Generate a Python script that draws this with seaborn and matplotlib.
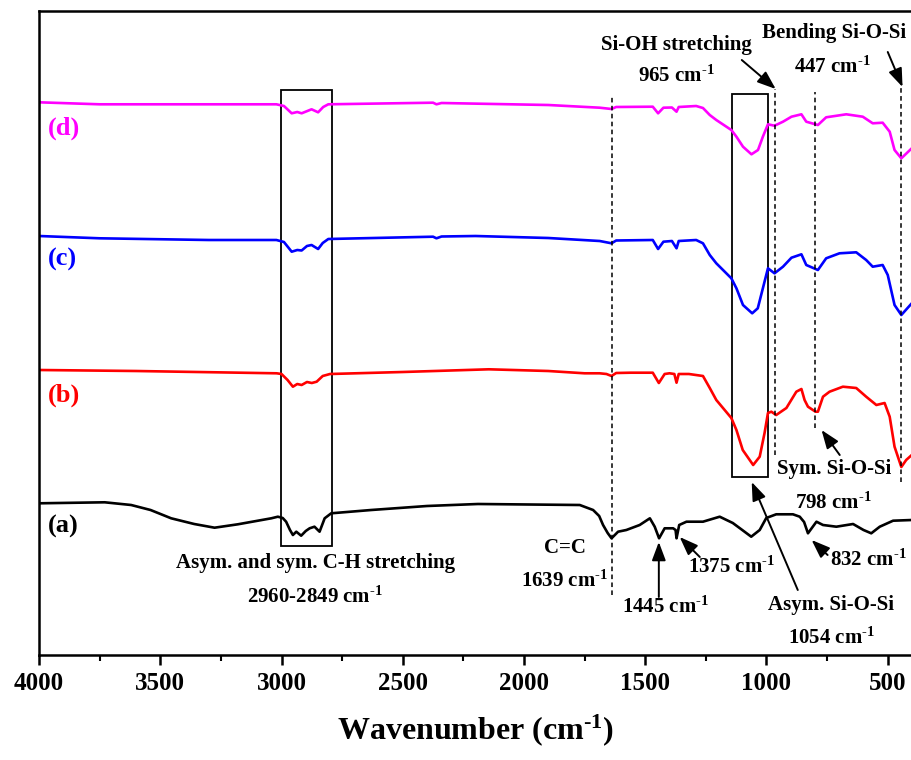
import numpy as np
import pandas as pd
import matplotlib
matplotlib.use("Agg")
import matplotlib.pyplot as plt
from matplotlib.patches import Rectangle
from matplotlib.ticker import MultipleLocator
import seaborn as sns

# ---------------- data (offset transmittance, arbitrary units) ----------------
wn_a = [4000, 3729, 3620, 3540, 3455, 3360, 3276, 3180, 3042, 3015, 2995, 2981, 2965, 2953, 2939,
        2919, 2900, 2884, 2864, 2843, 2822, 2795, 2630, 2400, 2190, 1770, 1715, 1690, 1674, 1655,
        1639, 1612, 1578, 1523, 1481, 1461, 1443, 1420, 1385, 1375, 1371, 1360, 1330, 1262, 1193,
        1139, 1100, 1063, 1028, 1001, 960, 891, 863, 845, 829, 794, 767, 712, 643, 600, 568, 533,
        478, 400]
t_a = [151.7, 152.7, 150, 145, 136.7, 131, 127.3, 130.7, 136.7, 138.3, 137, 133.3, 125, 120, 123.3,
       119.3, 124, 126.7, 128.3, 123.3, 136.7, 141.7, 145, 149, 151, 150, 145, 139, 130, 122,
       116.7, 123.3, 125, 130, 136.7, 128.3, 116.7, 126.7, 126.7, 125, 116.7, 130, 133.3, 133.3, 138.3,
       132, 125, 118.3, 125, 137, 140.7, 140.7, 138.3, 133, 121.7, 133.3, 130, 128.3, 131, 125, 121.7, 128.3,
       134.3, 135]

wn_b = [4000, 3600, 3020, 3000, 2975, 2953, 2935, 2917, 2895, 2875, 2855, 2830, 2800, 2500, 2145,
        1900, 1750, 1688, 1660, 1639, 1620, 1560, 1469, 1444, 1420, 1400, 1380, 1371, 1362, 1320,
        1262, 1234, 1207, 1145, 1124, 1098, 1055, 1028, 1008, 994, 980, 960, 918, 877, 856, 843,
        829, 798, 788, 767, 740, 685, 630, 589, 547, 513, 492, 472, 444, 424, 401]
t_b = [285, 284, 281.7, 281, 275, 268.3, 271, 270, 273, 272, 273.3, 279, 281, 283, 285.7,
       284, 281.7, 281.7, 281, 279, 282, 282.3, 282.3, 272, 281, 281.7, 281, 272.3, 281, 281,
       279, 267, 255, 237, 225, 205, 190, 198.3, 222, 242, 243.3, 240, 247, 263.3, 266, 255,
       248.3, 243.3, 243.3, 258.3, 263.3, 268.3, 267, 258.3, 250, 252, 238.3, 208.3, 188, 195, 200]

wn_c = [4000, 3750, 3300, 3021, 2990, 2958, 2935, 2917, 2895, 2876, 2849, 2830, 2807, 2375, 2361,
        2340, 2200, 1900, 1688, 1639, 1620, 1469, 1447, 1425, 1390, 1371, 1362, 1290, 1262, 1234,
        1207, 1145, 1124, 1097, 1059, 1036, 1015, 994, 967, 932, 897, 856, 836, 788, 754, 699,
        630, 589, 562, 521, 500, 472, 444, 401]
t_c = [419, 416.7, 415, 415, 413, 403.3, 405, 404.5, 409, 410, 406, 412, 416, 418.3, 416.7,
       418.5, 419, 417, 414, 411.7, 414.5, 415, 406, 413.3, 414, 406.7, 414, 415, 411.7, 400,
       391.7, 376.7, 366.7, 350, 341.7, 346.7, 366.7, 386.7, 381.7, 388.3, 397.3, 400.7, 390, 385, 396.7, 401.7,
       402.7, 395, 388.3, 390, 380, 350, 340, 351.7]

wn_d = [4000, 3750, 3300, 3021, 2990, 2958, 2935, 2917, 2876, 2849, 2828, 2807, 2375, 2361, 2340,
        1900, 1688, 1639, 1620, 1469, 1447, 1425, 1390, 1371, 1362, 1290, 1262, 1234, 1207, 1145,
        1124, 1097, 1062, 1035, 1015, 994, 967, 932, 897, 856, 836, 788, 754, 671, 603, 562,
        521, 492, 472, 444, 401]
t_d = [552.7, 550.7, 550.7, 550.7, 549, 541.7, 543, 541.7, 545.7, 542.7, 548, 550.7, 552.3, 550.7, 552,
       550, 547.3, 546, 548, 548.3, 541.7, 547.3, 547.5, 543.3, 548, 549, 547, 540, 535, 525,
       518.3, 508.3, 500.7, 505, 518.3, 530.7, 529.3, 533.3, 538.3, 540.7, 533.3, 530, 537.7, 540.7, 538.3, 531.7,
       532.3, 523.3, 505, 496.7, 506.7]

samples = ["(a)", "(b)", "(c)", "(d)"]
colors = ["black", "red", "blue", "#ff00ff"]
marked_peaks = [1639, 965, 798, 447]

# ---------------- styling ----------------
sns.set_theme(style="white")
plt.rcParams["font.family"] = ["Liberation Serif", "DejaVu Serif"]
plt.rcParams["font.weight"] = "bold"
plt.rcParams["text.color"] = "black"
plt.rcParams["axes.labelcolor"] = "black"
plt.rcParams["xtick.color"] = "black"
plt.rcParams["mathtext.fontset"] = "custom"
plt.rcParams["mathtext.rm"] = "Liberation Serif:bold"
plt.rcParams["mathtext.bf"] = "Liberation Serif:bold"
plt.rcParams["mathtext.it"] = "Liberation Serif:bold"

SUP = r"$^{\text{-1}}$"

frames = []
for name, wn, t in zip(samples, [wn_a, wn_b, wn_c, wn_d], [t_a, t_b, t_c, t_d]):
    frames.append(pd.DataFrame({"wn": wn, "T": t, "sample": name}))
df = pd.concat(frames, ignore_index=True)

fig = plt.figure(figsize=(9.12, 7.6), dpi=100)
ax = fig.add_axes([39 / 912, 105 / 760, 1 - 39 / 912, 644 / 760])

sns.lineplot(data=df, x="wn", y="T", hue="sample", palette=dict(zip(samples, colors)),
             hue_order=samples, linewidth=1.9, legend=False, ax=ax, estimator=None, sort=False)

ax.set_xlim(4000, 400)
ax.set_ylim(0, 644)
ax.set_yticks([])
ax.set_ylabel("")
ax.xaxis.set_major_locator(MultipleLocator(500))
ax.xaxis.set_minor_locator(MultipleLocator(250))
ax.tick_params(axis="x", which="major", direction="out", length=7.5, width=1.8,
               labelsize=18, pad=5, bottom=True, top=False, colors="black")
ax.tick_params(axis="x", which="minor", direction="out", length=4, width=1.5, bottom=True, top=False,
               colors="black")
for lbl in ax.get_xticklabels():
    lbl.set_fontweight("bold")
for s in ["left", "bottom", "top"]:
    ax.spines[s].set_linewidth(1.8)
    ax.spines[s].set_color("black")
ax.spines["right"].set_visible(False)

ax.set_xlabel("Wavenumber (cm" + SUP + ")", fontsize=23, fontweight="bold", labelpad=12, color="black")

# sample labels
lab_y = [129, 260, 396, 527]
for name, c, y in zip(samples, colors, lab_y):
    ax.text(3963, y, name, color=c, fontsize=19, fontweight="bold", ha="left", va="center")

# dashed guide lines
dash_ranges = {1639: (60, 560), 965: (200, 566), 798: (227, 563), 447: (173, 568)}
for w in marked_peaks:
    y0, y1 = dash_ranges[w]
    ax.plot([w, w], [y0, y1], color="black", lw=1.1, ls=(0, (3, 2.2)))

# boxes
ax.add_patch(Rectangle((2790, 109), 214, 456, fill=False, ec="black", lw=1.3))
ax.add_patch(Rectangle((995, 178), 148, 383, fill=False, ec="black", lw=1.3))

fs = 15
def txt(x, y, s):
    ax.text(x, y, s, fontsize=fs, fontweight="bold", ha="center", va="center", color="black")

txt(2858, 92, "Asym. and sym. C-H stretching")
txt(2862, 58, "2960-2849 cm" + SUP)
txt(1832, 107, "C=C")
txt(1832, 74, "1639 cm" + SUP)
txt(1415, 48, "1445 cm" + SUP)
txt(1143, 88, "1375 cm" + SUP)
txt(579, 95, "832 cm" + SUP)
txt(735, 50, "Asym. Si-O-Si")
txt(731, 17, "1054 cm" + SUP)
txt(723, 186, "Sym. Si-O-Si")
txt(723, 152, "798 cm" + SUP)
txt(1370, 610, "Si-OH stretching")
txt(1370, 579, "965 cm" + SUP)
txt(723, 622, "Bending Si-O-Si")
txt(727, 588, "447 cm" + SUP)

arrows = [((1444, 58), (1444, 113)),
          ((1275, 98), (1358, 118)),
          ((748, 100), (814, 115)),
          ((871, 65), (1061, 173)),
          ((698, 200), (773, 225)),
          ((1102, 595), (962, 566)),
          ((500, 603), (439, 568))]
for tail, head in arrows:
    ax.annotate("", xy=head, xytext=tail,
                arrowprops=dict(arrowstyle="-|>,head_length=0.8,head_width=0.3", color="black",
                                lw=1.4, shrinkA=0, shrinkB=0, mutation_scale=14))

fig.savefig("out.png", dpi=100)
